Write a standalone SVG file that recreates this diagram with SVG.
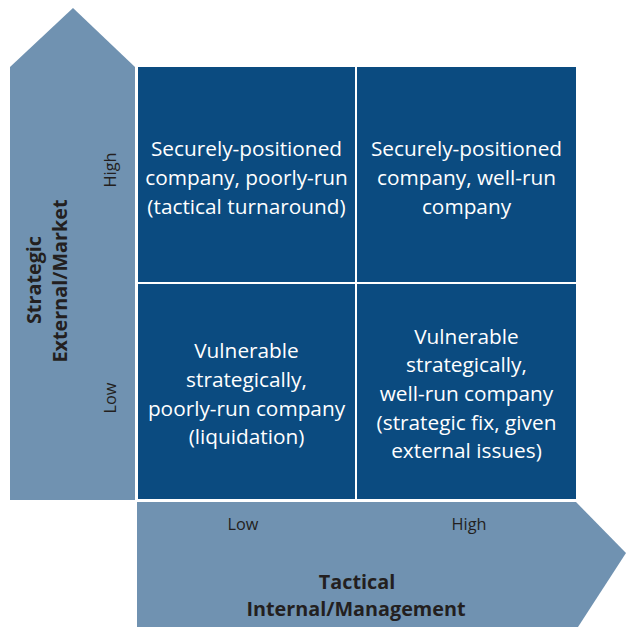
<svg xmlns="http://www.w3.org/2000/svg" width="626" height="627" viewBox="0 0 626 627">
  <style>
    .quad { fill: #0b4b80; }
    .arrow { fill: #7092b1; }
    .qt { font-family: "Open Sans", "Liberation Sans", sans-serif; font-size: 20.8px; fill: #ffffff; text-anchor: middle; }
    .ax { font-family: "Open Sans", "Liberation Sans", sans-serif; font-size: 16.3px; fill: #231f20; text-anchor: middle; }
    .axb { font-family: "Open Sans", "Liberation Sans", sans-serif; font-size: 19.8px; font-weight: bold; fill: #231f20; text-anchor: middle; }
  </style>
  <rect width="626" height="627" fill="#ffffff"/>
  <g id="axis-strategic">
    <polygon class="arrow" points="10,67 73,8 135,67 135,500 10,500"/>
    <text class="ax" transform="translate(116,170) rotate(-90)">High</text>
    <text class="ax" transform="translate(116,398) rotate(-90)">Low</text>
    <text class="axb" transform="translate(41,280) rotate(-90)">Strategic</text>
    <text class="axb" transform="translate(67,281) rotate(-90)">External/Market</text>
  </g>
  <g id="axis-tactical">
    <polygon class="arrow" points="137,502 576,502 626,553 578,627 137,627"/>
    <text class="ax" x="243" y="530">Low</text>
    <text class="ax" x="469" y="530">High</text>
    <text class="axb" x="357" y="589">Tactical</text>
    <text class="axb" x="356" y="616">Internal/Management</text>
  </g>
  <g id="q-top-left">
    <rect class="quad" x="138" y="67" width="217" height="215"/>
    <text class="qt" x="246.5" y="156">Securely-positioned</text>
    <text class="qt" x="246.5" y="185">company, poorly-run</text>
    <text class="qt" x="246.5" y="214">(tactical turnaround)</text>
  </g>
  <g id="q-top-right">
    <rect class="quad" x="357" y="67" width="219" height="215"/>
    <text class="qt" x="466.5" y="156">Securely-positioned</text>
    <text class="qt" x="466.5" y="185">company, well-run</text>
    <text class="qt" x="466.5" y="214">company</text>
  </g>
  <g id="q-bottom-left">
    <rect class="quad" x="138" y="284" width="217" height="215"/>
    <text class="qt" x="246.5" y="358">Vulnerable</text>
    <text class="qt" x="246.5" y="387">strategically,</text>
    <text class="qt" x="246.5" y="416">poorly-run company</text>
    <text class="qt" x="246.5" y="444">(liquidation)</text>
  </g>
  <g id="q-bottom-right">
    <rect class="quad" x="357" y="284" width="219" height="215"/>
    <text class="qt" x="466.5" y="344">Vulnerable</text>
    <text class="qt" x="466.5" y="372">strategically,</text>
    <text class="qt" x="466.5" y="401">well-run company</text>
    <text class="qt" x="466.5" y="430">(strategic fix, given</text>
    <text class="qt" x="466.5" y="458">external issues)</text>
  </g>
  <g id="connectors"/>
</svg>
